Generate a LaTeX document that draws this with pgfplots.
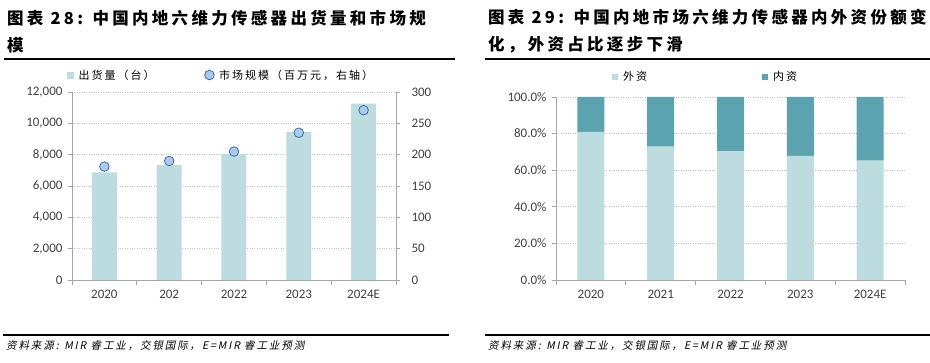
\documentclass[border=0pt]{standalone}
\usepackage{pgfplots}
\pgfplotsset{compat=1.18}
\usepackage{fontspec}
\setmainfont{Carlito}
\newfontfamily\cjk{Noto Sans CJK SC}
\newfontfamily\cjkt[LetterSpace=20]{Noto Sans CJK SC}
\newfontfamily\cjkl[LetterSpace=18]{Noto Sans CJK SC}
\newfontfamily\cjki[FakeSlant=0.2,LetterSpace=18]{Noto Sans CJK SC}
\definecolor{lightbar}{HTML}{BDDCE0}
\definecolor{darkbar}{HTML}{5BA3AE}
\definecolor{gridc}{HTML}{BFBFBF}
\definecolor{axc}{HTML}{A6A6A6}
\definecolor{txt}{HTML}{404040}
\definecolor{mfill}{HTML}{A9CBF2}
\definecolor{medge}{HTML}{2F5F9E}
\pgfplotsset{
  base/.style={
    scale only axis,
    anchor=south west,
    xmin=-0.5, xmax=4.5,
    tick align=outside,
    axis line style={axc, line width=0.8pt},
    every tick/.style={axc, line width=0.8pt},
    major tick length=4pt,
    minor tick length=5pt,
    tick label style={font=\fontsize{13}{15}\selectfont, text=txt},
    scaled y ticks=false,
    /pgf/number format/assume math mode=true,
    /pgf/number format/1000 sep={,},
    legend style={draw=none, fill=none, font=\cjkl\fontsize{11}{13}\selectfont, text=black, inner sep=0pt,
      /tikz/every odd column/.append style={column sep=3pt}},
  },
}
\begin{document}
\begin{tikzpicture}
\useasboundingbox (0pt,0pt) rectangle (930pt,362pt);
% titles
\node[anchor=west, inner sep=0pt] at (7pt,344pt) {\cjkt\bfseries\fontsize{16.5}{18}\selectfont 图表 28: 中国内地六维力传感器出货量和市场规};
\node[anchor=west, inner sep=0pt] at (7pt,317pt) {\cjkt\bfseries\fontsize{16.5}{18}\selectfont 模};
\node[anchor=west, inner sep=0pt] at (488pt,345pt) {\cjkt\bfseries\fontsize{16.5}{18}\selectfont 图表 29: 中国内地市场六维力传感器内外资份额变};
\node[anchor=west, inner sep=0pt] at (488pt,317pt) {\cjkt\bfseries\fontsize{16.5}{18}\selectfont 化，外资占比逐步下滑};
\draw[line width=1.3pt] (4pt,303pt) -- (455pt,303pt);
\draw[line width=1.3pt] (485pt,303pt) -- (930pt,303pt);
\draw[line width=1.1pt] (3pt,27pt) -- (449pt,27pt);
\draw[line width=1.1pt] (485pt,27pt) -- (930pt,27pt);
\node[anchor=west, inner sep=0pt] at (6pt,16pt) {\cjki\fontsize{10.5}{12}\selectfont 资料来源: MIR 睿工业，交银国际，E=MIR 睿工业预测};
\node[anchor=west, inner sep=0pt] at (488pt,16pt) {\cjki\fontsize{10.5}{12}\selectfont 资料来源: MIR 睿工业，交银国际，E=MIR 睿工业预测};

% left chart: bars
\begin{axis}[base,
  at={(72pt,82pt)}, width=324pt, height=188pt,
  ymin=0, ymax=12000, ytick={0,2000,...,12000},
  axis y line*=left, axis x line*=bottom,
  xtick={0,1,2,3,4}, xticklabels={2020,202,2022,2023,2024E},
  minor xtick={-0.5,0.5,1.5,2.5,3.5,4.5},
  major x tick style={draw=none},
  x tick label style={yshift=-3pt},
  ymajorgrids, grid style={dotted, gridc, line width=0.6pt},
  yticklabel style={xshift=-2pt},
]
\addplot[ybar, bar width=25pt, fill=lightbar, draw=none] coordinates {(0,6870) (1,7340) (2,8040) (3,9450) (4,11250)};
\end{axis}
% left chart: markers on right axis
\begin{axis}[base,
  at={(72pt,82pt)}, width=324pt, height=188pt,
  ymin=0, ymax=300, ytick={0,50,...,300},
  axis y line*=right, axis x line=none,
  yticklabel style={xshift=8pt},
  legend columns=2,
  legend style={at={(-0.015,1.09)}, anchor=west, /tikz/every even column/.append style={column sep=48pt}},
]
\addlegendimage{legend image code/.code={\fill[lightbar] (0pt,-3pt) rectangle (6pt,3pt);}}
\addlegendentry{出货量（台）}
\addplot[only marks, mark=*, mark size=4.8pt, mark options={fill=mfill, draw=medge, line width=0.7pt}] coordinates {(0,181) (1,190) (2,205) (3,235) (4,271)};
\addlegendentry{市场规模（百万元，右轴）}
\end{axis}

% right chart: stacked
\begin{axis}[base,
  at={(556pt,82pt)}, width=349pt, height=183pt,
  ymin=0, ymax=100, ytick={0,20,...,100},
  axis y line*=left, axis x line*=bottom,
  yticklabel={\pgfmathprintnumber[fixed,fixed zerofill,precision=1]{\tick}\%},
  xtick={0,1,2,3,4}, xticklabels={2020,2021,2022,2023,2024E},
  minor xtick={-0.5,0.5,1.5,2.5,3.5,4.5},
  major x tick style={draw=none},
  x tick label style={yshift=-3pt},
  ymajorgrids, grid style={dotted, gridc, line width=0.6pt},
  yticklabel style={xshift=-2pt},
  ybar stacked, bar width=27pt,
  legend columns=2,
  legend style={at={(0.16,1.11)}, anchor=west, /tikz/every even column/.append style={column sep=113pt}},
]
\addplot[fill=lightbar, draw=none, legend image code/.code={\fill[lightbar] (0pt,-3pt) rectangle (6pt,3pt);}] coordinates {(0,80.9) (1,72.9) (2,70.4) (3,67.8) (4,65.3)};
\addlegendentry{外资}
\addplot[fill=darkbar, draw=none, legend image code/.code={\fill[darkbar] (0pt,-3pt) rectangle (6pt,3pt);}] coordinates {(0,19.1) (1,27.1) (2,29.6) (3,32.2) (4,34.7)};
\addlegendentry{内资}
\end{axis}
\end{tikzpicture}
\end{document}
